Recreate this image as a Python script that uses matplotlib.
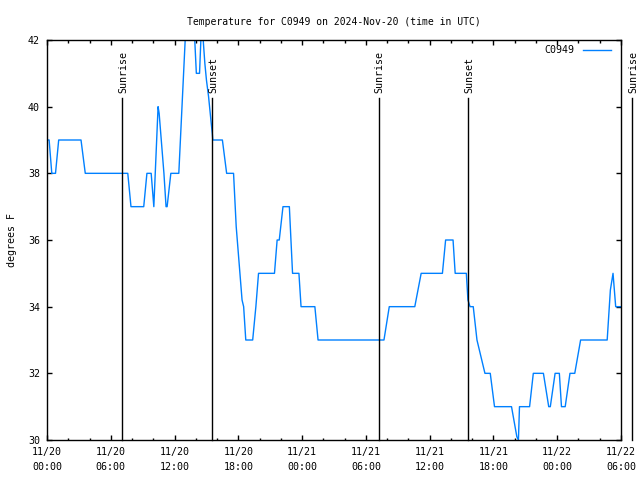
import numpy as np
import matplotlib
matplotlib.use("Agg")
import matplotlib.pyplot as plt

# horas desde 2024-11-20 00:00 UTC y temperatura (F)
horas = [0.0, 0.2, 0.45, 0.8, 1.1, 3.2, 3.6, 7.6, 7.9, 9.1, 9.4, 9.8, 10.05, 10.45,
         10.55, 11.0, 11.2, 11.3, 11.65, 12.4, 12.7, 13.0, 13.3, 13.6, 13.75, 14.05,
         14.35, 14.6, 14.65, 14.85, 15.0, 15.2, 15.45, 15.55, 15.6, 16.5, 16.9, 17.55,
         17.8, 18.1, 18.35, 18.5, 18.7, 19.35, 19.65, 19.9, 21.4, 21.65, 21.85, 22.2,
         22.8, 23.1, 23.7, 23.9, 25.2, 25.5, 31.7, 32.2, 34.6, 35.2, 37.2, 37.5, 38.2,
         38.4, 39.45, 39.6, 39.8, 40.1, 40.45, 41.2, 41.7, 42.1, 43.7, 44.2, 44.35,
         44.45, 45.4, 45.75, 46.7, 47.2, 47.35, 47.8, 48.2, 48.4, 48.75, 49.2, 49.65,
         50.2, 52.7, 53.0, 53.25, 53.5, 54.0]
temp = [39, 39, 38, 38, 39, 39, 38, 38, 37, 37, 38, 38, 37, 40,
        39.8, 38, 37, 37, 38, 38, 40, 42, 43, 43, 43, 41,
        41, 43, 42.2, 41.3, 40.8, 40.3, 39.5, 39.2, 39, 39, 38, 38,
        36.4, 35.2, 34.2, 34, 33, 33, 34, 35, 35, 36, 36, 37,
        37, 35, 35, 34, 34, 33, 33, 34, 34, 35, 35, 36, 36,
        35, 35, 34.2, 34, 34, 33, 32, 32, 31, 31, 30.1, 30,
        31, 31, 32, 32, 31, 31, 32, 32, 31, 31, 32, 32,
        33, 33, 34.5, 35, 34, 34]

# salida y puesta del sol (horas desde 11/20 00:00)
eventos_h = [7.07, 15.55, 31.2, 39.6, 55.04]
eventos = ["Sunrise", "Sunset", "Sunrise", "Sunset", "Sunrise"]

ticks_h = [0, 6, 12, 18, 24, 30, 36, 42, 48, 54]
ticks_lbl = ["11/20\n00:00", "11/20\n06:00", "11/20\n12:00", "11/20\n18:00",
             "11/21\n00:00", "11/21\n06:00", "11/21\n12:00", "11/21\n18:00",
             "11/22\n00:00", "11/22\n06:00"]

plt.rcParams['font.family'] = 'DejaVu Sans Mono'
plt.rcParams['font.size'] = 7.2

fig = plt.figure(figsize=(6.4, 4.8), dpi=100)
ax = fig.add_axes([47/640, 1 - 440/480, 574/640, 400/480])

ax.plot(horas, temp, color='#0080ff', lw=1, label='C0949')

for h, nombre in zip(eventos_h, eventos):
    ax.plot([h, h], [30, 40.26], color='black', lw=1, clip_on=False)
    ax.text(h + 0.1, 40.42, nombre, rotation=90, ha='center', va='bottom',
            clip_on=False)

ax.set_xlim(0, 54)
ax.set_ylim(30, 42)
ax.set_yticks(np.arange(30, 43, 2))
ax.set_xticks(ticks_h)
ax.set_xticklabels(ticks_lbl, linespacing=1.6)
ax.set_xticks(np.arange(0, 55, 2), minor=True)
ax.tick_params(which='both', direction='in', top=True, right=True, width=1)
ax.tick_params(which='major', length=3.6, pad=5)
ax.tick_params(which='minor', length=1.8)
ax.tick_params(axis='y', which='minor', left=False, right=False)
for s in ax.spines.values():
    s.set_linewidth(1)

ax.set_ylabel("degrees F", labelpad=8)
ax.set_title("Temperature for C0949 on 2024-Nov-20 (time in UTC)", fontsize=7, pad=11)

ax.legend(loc='upper right', frameon=False, markerfirst=False, handlelength=2.8,
          borderaxespad=0.15, handletextpad=0.9, bbox_to_anchor=(0.993, 1.0))

fig.savefig("out.png", dpi=100)
